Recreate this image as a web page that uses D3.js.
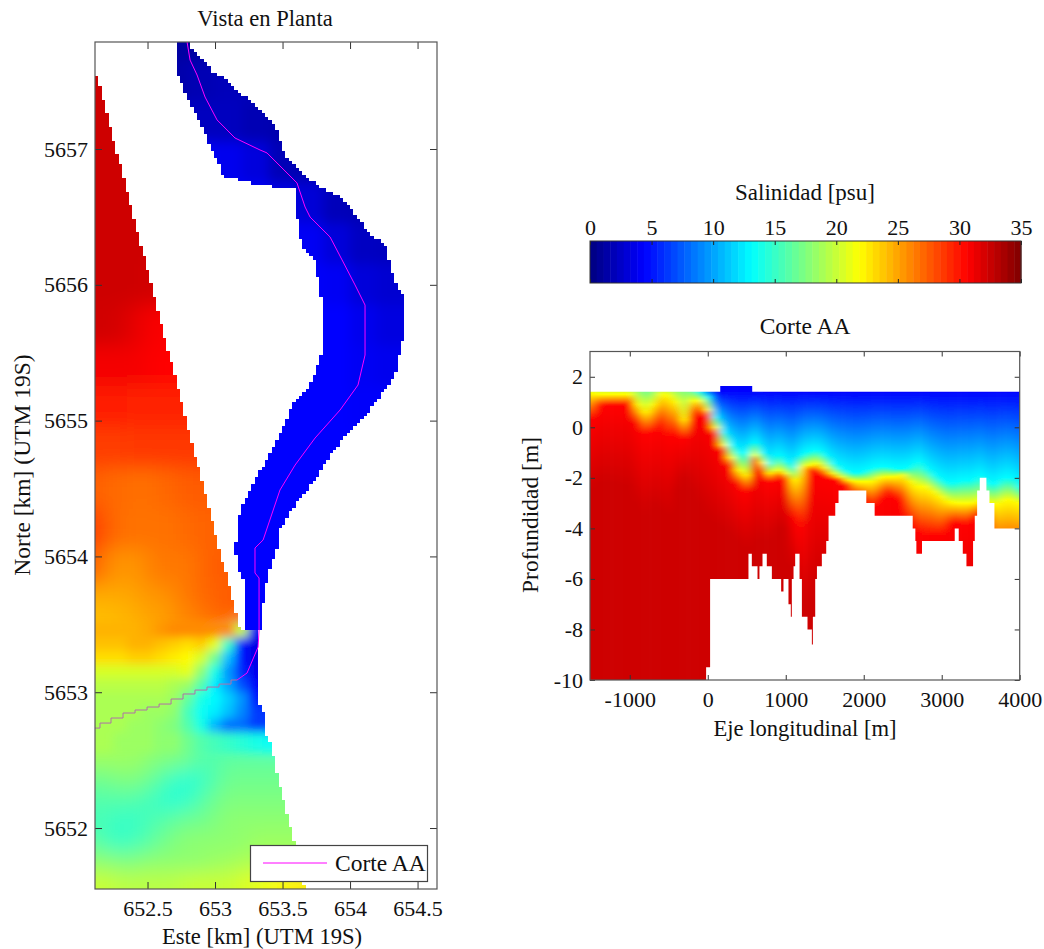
<!DOCTYPE html>
<html>
<head>
<meta charset="utf-8">
<script src="https://cdn.jsdelivr.net/npm/d3@7"></script>
<style>
  html, body { margin: 0; background: #fff; }
  svg { display: block; }
  text { font-family: "Liberation Serif", serif; fill: #111; }
  .tick text { font-size: 22px; }
  .label { font-size: 22.6px; text-anchor: middle; }
  .side { font-size: 23.5px; text-anchor: middle; }
</style>
</head>
<body>
<svg id="fig" width="1044" height="949"></svg>
<script>
'use strict';

// jet colormap of the figure
const jetPos = [0, 0.125, 0.375, 0.5, 0.625, 0.75, 0.875, 1];
const jetCol = ['#00007f', '#0000ff', '#00ffff', '#7fff7f', '#ffff00', '#ff7f00', '#ff0000', '#7f0000'];
const salMax = 35;
const salTicks = [0, 5, 10, 15, 20, 25, 30, 35];

// plan view, axes
const eastDomain = [652.111, 654.644];
const northDomain = [5651.551, 5657.788];
const eastTicks = [652.5, 653, 653.5, 654, 654.5];
const northTicks = [5652, 5653, 5654, 5655, 5656, 5657];

// plan view, coastal water salinity [psu]
const seaEast = [652.1, 652.2, 652.3, 652.4, 652.5, 652.6, 652.7, 652.8, 652.9, 653.0, 653.1, 653.2, 653.3, 653.4, 653.5, 653.6, 653.7];
const seaNorth = [5657.6, 5657.2, 5656.8, 5656.4, 5656.0, 5655.7, 5655.4, 5655.1, 5654.8, 5654.5, 5654.2, 5653.9, 5653.7, 5653.55, 5653.45, 5653.35, 5653.25, 5653.15, 5653.05, 5652.95, 5652.85, 5652.75, 5652.65, 5652.5, 5652.35, 5652.2, 5652.05, 5651.9, 5651.75, 5651.6];
const seaSal = [
  [32.3, 32.3, 32.3, 32.3, 32.3, 32.3, 32.3, 32.3, 32.3, 32.3, 32.3, 32.3, 32.3, 32.3, 32.3, 32.3, 32.3],
  [32.3, 32.3, 32.3, 32.3, 32.3, 32.3, 32.3, 32.3, 32.3, 32.3, 32.3, 32.3, 32.3, 32.3, 32.3, 32.3, 32.3],
  [32.3, 32.3, 32.3, 32.3, 32.3, 32.3, 32.3, 32.3, 32.3, 32.3, 32.3, 32.3, 32.3, 32.3, 32.3, 32.3, 32.3],
  [32.3, 32.3, 32.3, 32.3, 32.3, 32.3, 32.3, 32.3, 32.3, 32.3, 32.3, 32.3, 32.3, 32.3, 32.3, 32.3, 32.3],
  [32.3, 32.3, 32.3, 32.3, 32.2, 32.2, 32.2, 32.2, 32.2, 32.2, 32.2, 32.2, 32.2, 32.2, 32.2, 32.2, 32.2],
  [32.2, 32.2, 32, 31.5, 31, 30.8, 30.8, 30.8, 30.8, 30.8, 30.8, 30.8, 30.8, 30.8, 30.8, 30.8, 30.8],
  [31, 31, 31, 31, 30.8, 30.6, 30.6, 30.6, 30.6, 30.6, 30.6, 30.6, 30.6, 30.6, 30.6, 30.6, 30.6],
  [29.7, 29.7, 29.7, 29.5, 29.5, 29.5, 29.5, 29.5, 29.5, 29.5, 29.5, 29.5, 29.5, 29.5, 29.5, 29.5, 29.5],
  [28.5, 28.5, 28.5, 28.7, 28.7, 28.7, 28.7, 28.7, 28.7, 28.7, 28.7, 28.7, 28.7, 28.7, 28.7, 28.7, 28.7],
  [27.5, 27, 27, 26.8, 26.8, 27, 27.2, 27.5, 27.5, 27.5, 27.5, 27.5, 27.5, 27.5, 27.5, 27.5, 27.5],
  [28.5, 27.5, 26.8, 26.7, 26.7, 26.7, 26.8, 27, 27.2, 27.2, 27.2, 27.2, 27.2, 27.2, 27.2, 27.2, 27.2],
  [27.5, 26, 25.5, 25.5, 26, 26.5, 26.5, 26.5, 27, 27.5, 27.5, 27.5, 27.5, 27.5, 27.5, 27.5, 27.5],
  [24.8, 24.8, 24.8, 25, 25.5, 25.5, 26, 26.5, 27, 27.2, 27.5, 27.5, 27.5, 27.5, 27.5, 27.5, 27.5],
  [24, 24, 24.3, 24.5, 25, 25, 25.5, 26, 26.5, 27, 27.5, 27.5, 27.5, 27.5, 27.5, 27.5, 27.5],
  [24.5, 24.5, 24.5, 24.5, 24.8, 25.5, 26, 26, 26, 26, 26, 20, 4, 4, 4, 4, 4],
  [24, 24, 24, 24.5, 24.5, 24, 23.5, 23, 23.5, 21, 15, 5, 3.5, 3.5, 3.5, 3.5, 3.5],
  [23, 23, 23, 23.5, 23.5, 23, 22.5, 22, 20.5, 17, 11, 5, 3.5, 3.5, 3.5, 3.5, 3.5],
  [20.5, 20.5, 20.5, 20.5, 20.5, 20.5, 20.5, 21, 18, 14, 9.5, 5.5, 3.8, 3.8, 3.8, 3.8, 3.8],
  [19.5, 19.5, 19.5, 19.5, 19.5, 19.5, 19, 18.5, 16, 12.5, 10, 7, 4.2, 4.2, 4.2, 4.2, 4.2],
  [19, 19, 19, 19, 19, 19, 18.5, 16.5, 14, 13, 11.5, 9.5, 5, 5, 5, 5, 5],
  [19, 19, 19, 19, 18.5, 18.5, 18, 15.5, 13.5, 12.5, 11, 9, 6.5, 6, 6, 6, 6],
  [19, 19, 19, 18.5, 18.5, 18, 17.5, 16, 14, 10.5, 8, 8, 6.5, 6.5, 6.5, 6.5, 6.5],
  [19, 19, 18.5, 18.5, 18.5, 18, 18, 17, 16, 15.5, 15, 14.5, 14, 13.5, 13.5, 13.5, 13.5],
  [18.5, 18.5, 18.5, 18.5, 18, 17.5, 17.5, 17, 16, 16, 16.5, 16.5, 16.5, 16.5, 16.5, 16.5, 16.5],
  [17, 17, 17.5, 17.5, 17, 16, 15, 14.5, 15, 16, 17, 17, 17, 17, 17, 17, 17],
  [16, 16, 16, 16, 15.5, 15, 14.5, 15, 16, 17, 17.5, 17.5, 17.5, 17.5, 17.5, 17.5, 17.5],
  [15.5, 15.5, 15, 15, 15.5, 16, 16.5, 17, 17, 17.5, 18, 18, 18, 18, 18, 18, 18],
  [16.5, 15.5, 15, 15.5, 16, 17, 17.5, 18, 18, 18, 18, 18, 18.5, 18.5, 18.5, 18.5, 18.5],
  [18, 18, 17.5, 17.5, 18, 18, 18, 18, 18, 18.5, 18.5, 19, 19, 19, 19, 19, 19],
  [20, 20, 19.5, 19.5, 19.5, 19.5, 19.5, 20, 20, 20, 20, 20.5, 21, 21.5, 22, 22.5, 22.5]
];
const seaFineRows = [14, 22]; // rows around the mouth keep sharper gradients

// plan view, river salinity [psu]
const riverEast = [652.7, 652.9, 653.1, 653.3, 653.5, 653.7, 653.9, 654.1, 654.3, 654.5];
const riverNorth = [5657.8, 5657.5, 5657.2, 5656.9, 5656.6, 5656.3, 5656.0, 5655.7, 5655.4, 5655.1, 5654.8, 5654.5, 5654.2, 5653.9, 5653.6];
const riverSal = [
  [1.2, 1.2, 1.2, 1.5, 1.5, 1.5, 1.5, 1.5, 1.5, 1.5],
  [1.5, 1.8, 2, 2, 2, 2, 2, 2, 2, 2],
  [2.5, 2.2, 2.2, 1.8, 1.6, 1.5, 1.5, 1.5, 1.5, 1.5],
  [4, 4, 3.8, 3.2, 1.9, 1.7, 1.6, 1.6, 1.6, 1.6],
  [4, 4, 4, 4, 3.4, 3, 2, 1.8, 1.8, 1.8],
  [4.4, 4.4, 4.4, 4.4, 4.2, 4, 3.1, 2.3, 2.2, 2.2],
  [4.4, 4.4, 4.4, 4.4, 4.4, 4.2, 4, 3.1, 2.8, 2.8],
  [4.4, 4.4, 4.4, 4.4, 4.4, 4.4, 4.4, 3.8, 3.3, 3.3],
  [4.4, 4.4, 4.4, 4.4, 4.4, 4.4, 4.4, 4, 3.8, 3.8],
  [4.4, 4.4, 4.4, 4.4, 4.4, 4.4, 4.4, 4.2, 4.2, 4.2],
  [4.4, 4.4, 4.4, 4.4, 4.4, 4.4, 4.4, 4.4, 4.4, 4.4],
  [4.4, 4.4, 4.4, 4.4, 4.4, 4.4, 4.4, 4.4, 4.4, 4.4],
  [4.4, 4.4, 4.4, 4.4, 4.4, 4.4, 4.4, 4.4, 4.4, 4.4],
  [4.5, 4.5, 4.5, 4.5, 4.5, 4.5, 4.5, 4.5, 4.5, 4.5],
  [4.5, 4.5, 4.5, 4.5, 4.5, 4.5, 4.5, 4.5, 4.5, 4.5]
];

// plan view, wet area outlines [km]
const riverOutline = [
  [652.719, 5657.788], [652.719, 5657.545], [652.748, 5657.493], [652.770, 5657.434], [652.822, 5657.339], [652.844, 5657.287],
  [652.896, 5657.191], [652.948, 5657.066], [652.978, 5656.985], [653.022, 5656.897], [653.067, 5656.794], [653.170, 5656.772],
  [653.296, 5656.742], [653.452, 5656.720], [653.578, 5656.720], [653.600, 5656.661], [653.607, 5656.514], [653.622, 5656.389],
  [653.659, 5656.264], [653.733, 5656.183], [653.756, 5656.087], [653.778, 5655.962], [653.807, 5655.778], [653.807, 5655.593],
  [653.778, 5655.446], [653.704, 5655.262], [653.570, 5655.115], [653.519, 5654.968], [653.407, 5654.747], [653.296, 5654.563],
  [653.185, 5654.342], [653.170, 5654.195], [653.148, 5654.047], [653.170, 5653.915], [653.200, 5653.848], [653.222, 5653.804],
  [653.222, 5653.451], [653.348, 5653.451], [653.348, 5653.568], [653.370, 5653.753], [653.393, 5653.863], [653.430, 5653.973],
  [653.474, 5654.121], [653.481, 5654.195], [653.593, 5654.378], [653.741, 5654.562], [653.852, 5654.747], [654.000, 5654.931],
  [654.148, 5655.078], [654.259, 5655.225], [654.333, 5655.336], [654.378, 5655.557], [654.400, 5655.630], [654.400, 5655.910],
  [654.356, 5655.976], [654.326, 5656.057], [654.304, 5656.130], [654.281, 5656.234], [654.252, 5656.315], [654.163, 5656.352],
  [654.074, 5656.477], [654.000, 5656.566], [653.904, 5656.661], [653.800, 5656.705], [653.726, 5656.757], [653.607, 5656.867],
  [653.526, 5656.941], [653.504, 5657.007], [653.474, 5657.088], [653.444, 5657.177], [653.393, 5657.228], [653.319, 5657.302],
  [653.237, 5657.376], [653.148, 5657.434], [653.074, 5657.523], [652.985, 5657.567], [652.919, 5657.641], [652.867, 5657.692],
  [652.815, 5657.744], [652.815, 5657.788]
];
const seaOutline = [
  [652.05, 5657.55], [652.125, 5657.55], [653.190, 5653.451], [653.319, 5653.451], [653.319, 5652.920], [653.356, 5652.906],
  [653.363, 5652.700], [653.393, 5652.685], [653.680, 5651.5], [652.05, 5651.5]
];

// section line AA seen in plan [km]
const cutRiver = [
  [652.793, 5657.788], [652.815, 5657.655], [652.867, 5657.545], [652.926, 5657.383], [653.015, 5657.214], [653.148, 5657.081],
  [653.333, 5656.993], [653.385, 5656.971], [653.607, 5656.750], [653.667, 5656.573], [653.704, 5656.499], [653.852, 5656.352],
  [653.941, 5656.183], [654.037, 5655.999], [654.111, 5655.851], [654.111, 5655.483], [654.059, 5655.262], [653.926, 5655.078],
  [653.741, 5654.872], [653.593, 5654.673], [653.481, 5654.489], [653.356, 5654.121], [653.296, 5654.062], [653.296, 5653.878],
  [653.326, 5653.841], [653.326, 5653.458], [653.319, 5653.333], [653.237, 5653.141], [653.163, 5653.090]
];
const cutSea = [
  [653.163, 5653.090], [653.074, 5653.060], [652.985, 5653.038], [652.896, 5653.016], [652.807, 5652.987], [652.719, 5652.950],
  [652.630, 5652.913], [652.541, 5652.891], [652.452, 5652.869], [652.363, 5652.847], [652.274, 5652.810], [652.185, 5652.773], [652.111, 5652.736]
];

// longitudinal section, axes
const alongDomain = [-1510, 4000];
const depthDomain = [-10, 3];
const alongTicks = [-1000, 0, 1000, 2000, 3000, 4000];
const depthTicks = [-10, -8, -6, -4, -2, 0, 2];

// longitudinal section, stations [m] and elevation [m] of the isohalines
const stations = d3.range(-1500, 4001, 100);
const iso4 = [3, 3, 3, 3, 3, 3, 3, 3, 3, 3, 3, 3, 3, 2.4, 2, 1.6, 1.38, 0.9, 0.5, 0.1, 0, -0.1, -0.4, -0.5, -0.37, -0.5, -0.77, -0.5, -0.37, -0.3, -0.37, -0.64, -0.77, -0.9, -0.97, -0.9, -0.64, -0.64, -0.57, -0.77, -0.77, -1.03, -0.64, -0.9, -0.9, -0.84, -0.64, -0.64, -0.5, -0.77, -1.03, -1.56, -1.36, -1.16, -1.43, -1.76];
const iso13 = [2.2, 2.2, 2.2, 2.2, 2.2, 2.2, 2.2, 2.05, 2, 2.2, 2.2, 2, 2.6, 1.7, 1.4, 1.2, 0.4, -0.2, -0.7, -1, -1, -0.6, -1, -1.43, -1.1, -1.36, -1.56, -1.1, -0.97, -0.9, -1.1, -1.43, -1.63, -1.76, -1.82, -1.76, -1.63, -1.56, -1.56, -1.63, -1.63, -1.56, -1.36, -1.63, -1.89, -2.09, -2.22, -2.15, -2.09, -2.09, -1.9, -2.22, -2.22, -2, -2, -2.35];
const iso22 = [1.35, 1.3, 1.3, 1.3, 1.3, 1.3, 0.9, 0.6, 0.9, 1.3, 1.25, 1, 0.3, 1.05, 1.05, 0.7, 0, -0.7, -1.2, -1.7, -1.9, -1.1, -1.4, -1.82, -1.7, -1.82, -2.09, -1.6, -1.5, -1.43, -1.6, -1.82, -1.96, -2.09, -2.15, -2.15, -2.15, -2, -1.96, -1.96, -1.89, -2.15, -2.35, -2.35, -2.55, -2.75, -2.95, -3, -3, -3, -2.9, -3, -3.05, -2.88, -2.88, -3];
const iso30 = [0.3, 0.8, 0.85, 0.85, 0.85, 0.85, 0.1, -0.3, -0.2, 0.1, -0.4, -0.3, -0.5, 0.3, 0.55, 0.35, -0.35, -1, -1.6, -2.3, -2.6, -1.4, -1.9, -2.2, -1.96, -2.15, -3.6, -4, -1.76, -1.82, -1.96, -2.09, -2.15, -2.35, -2.75, -2.9, -3.2, -2.9, -2.6, -2.8, -3, -3.8, -4.2, -4.3, -4.3, -4.3, -3.9, -3.8, -3.9, -3.7, -3.5, -3.9, -5.4, -5.4, -5.4, -5.4];
const iso32 = [-2.5, -2.2, -2.2, -2.2, -2.3, -2.3, -3, -3.5, -3, -3.2, -3.5, -2.5, -2, -2.5, -3, -3.5, -3.8, -4, -4.2, -4.5, -4.8, -4.5, -4.5, -4.5, -4, -4, -5.5, -7, -7, -6, -6, -6, -9, -9, -9, -9, -9, -9, -9, -9, -9, -9, -9, -9, -9, -9, -9, -9, -9, -9, -9, -9, -9, -9, -9, -9];
const isoLevels = [4.4, 13.1, 21.9, 30.6, 32.3];

// longitudinal section, bed steps [m]
const bedX = [-1510, -21, 30, 522, 565, 638, 663, 702, 757, 822, 941, 971, 1035, 1065, 1078, 1100, 1121, 1177, 1207, 1279, 1335, 1348, 1378, 1400, 1463, 1519, 1549, 1635, 1677, 2033, 2140, 2628, 2662, 2675, 2747, 3167, 3218, 3270, 3317, 3402, 3424, 3454, 3488, 3573, 3612, 3676, 4000];
const bedZ = [-10, -9.5, -6, -5, -5.5, -6, -5.5, -5, -5.5, -6, -6.5, -6, -7, -7.5, -6, -5.5, -5, -6, -7.5, -8, -8.6, -7.5, -6, -5.5, -5, -4.5, -3.5, -3, -2.5, -3, -3.5, -4, -4.5, -5, -4.5, -4, -4.5, -5, -5.5, -4.5, -3.5, -2.5, -2, -2.5, -3, -4, -4];
const surfaceZ = 1.41;
const raisedX = [160, 570];
const raisedZ = 1.63;

const jet = d3.scaleLinear().domain(jetPos.map((p) => p * salMax)).range(jetCol).clamp(true);

const svg = d3.select('#fig');
const defs = svg.append('defs');

const blur = function (id, dev) {
  defs.append('filter').attr('id', id)
    .attr('filterUnits', 'userSpaceOnUse')
    .attr('x', 0).attr('y', 0).attr('width', 1044).attr('height', 949)
    .append('feGaussianBlur').attr('stdDeviation', dev);
};
blur('softWide', 10);
blur('softFine', 5);
blur('softRiver', 6);
blur('softColumns', '4.5 0');

/* model cells are small squares, so the wet area is clipped on that lattice */
const latticeClip = function (id, outline, x, y) {
  const step = 3.4;
  const poly = outline.map(([e, n]) => [x(e), y(n)]);
  const x0 = x.range()[0];
  const y1 = y.range()[1];
  let d = '';
  for (let py = y1; py < y.range()[0]; py += step) {
    let start = null;
    for (let px = x0; px <= x.range()[1]; px += step) {
      const inside = d3.polygonContains(poly, [px + step / 2, py + step / 2]);
      if (inside && start === null) start = px;
      if (!inside && start !== null) {
        d += `M${Math.round(start)},${Math.round(py)}H${Math.round(px)}V${Math.round(py + step)}H${Math.round(start)}Z`;
        start = null;
      }
    }
  }
  defs.append('clipPath').attr('id', id).append('path').attr('d', d);
};

/* edges halfway between grid nodes, the outer ones pushed out so the blur stays full */
const edges = function (nodes, scale) {
  const px = nodes.map(scale);
  const mid = d3.pairs(px).map(([a, b]) => (a + b) / 2);
  const dir = Math.sign(px[1] - px[0]);
  return [px[0] - 40 * dir, ...mid, px[px.length - 1] + 40 * dir];
};

const drawField = function (parent, east, north, sal, x, y, filter, rows) {
  const xe = edges(east, x);
  const ye = edges(north, y);
  const cells = sal.flatMap((row, j) => row.map((v, i) => ({ v, i, j })))
    .filter((d) => !rows || (d.j >= rows[0] && d.j <= rows[1]));
  parent.append('g').attr('filter', `url(#${filter})`)
    .selectAll('rect').data(cells).join('rect')
    .attr('x', (d) => xe[d.i] - 0.5)
    .attr('y', (d) => ye[d.j] - 0.5)
    .attr('width', (d) => xe[d.i + 1] - xe[d.i] + 1)
    .attr('height', (d) => ye[d.j + 1] - ye[d.j] + 1)
    .attr('fill', (d) => jet(d.v));
};

/* matlab style box: ticks point inward on all four sides */
const drawBox = function (x, y, xTicks, yTicks, len) {
  const w = x.range()[1] - x.range()[0];
  const h = y.range()[0] - y.range()[1];
  const g = svg.append('g').attr('class', 'box');
  const fmt = (d) => String(d);
  g.append('g').attr('transform', `translate(0,${y.range()[0]})`)
    .call(d3.axisBottom(x).tickValues(xTicks).tickFormat(fmt).tickSizeInner(-len).tickSizeOuter(0).tickPadding(11));
  g.append('g').attr('transform', `translate(0,${y.range()[1]})`)
    .call(d3.axisTop(x).tickValues(xTicks).tickFormat('').tickSizeInner(-len).tickSizeOuter(0));
  g.append('g').attr('transform', `translate(${x.range()[0]},0)`)
    .call(d3.axisLeft(y).tickValues(yTicks).tickFormat(fmt).tickSizeInner(-len).tickSizeOuter(0).tickPadding(7));
  g.append('g').attr('transform', `translate(${x.range()[1]},0)`)
    .call(d3.axisRight(y).tickValues(yTicks).tickFormat('').tickSizeInner(-len).tickSizeOuter(0));
  g.selectAll('.domain').remove();
  g.selectAll('.tick line').attr('stroke', '#333');
  g.selectAll('.tick text').attr('font-family', null).attr('font-size', null);
  g.append('rect').attr('x', x.range()[0]).attr('y', y.range()[1])
    .attr('width', w).attr('height', h)
    .attr('fill', 'none').attr('stroke', '#555').attr('stroke-width', 1.2);
};

/* ---- plan view ---- */
const px = d3.scaleLinear().domain(eastDomain).range([95, 437]);
const py = d3.scaleLinear().domain(northDomain).range([889, 42]);

latticeClip('seaClip', seaOutline, px, py);
latticeClip('riverClip', riverOutline, px, py);
defs.append('clipPath').attr('id', 'planClip').append('rect')
  .attr('x', 95).attr('y', 42).attr('width', 342).attr('height', 847);

const plan = svg.append('g').attr('clip-path', 'url(#planClip)');
const seaLayer = plan.append('g').attr('clip-path', 'url(#seaClip)');
drawField(seaLayer, seaEast, seaNorth, seaSal, px, py, 'softWide');
drawField(seaLayer, seaEast, seaNorth, seaSal, px, py, 'softFine', seaFineRows);
const riverLayer = plan.append('g').attr('clip-path', 'url(#riverClip)');
drawField(riverLayer, riverEast, riverNorth, riverSal, px, py, 'softRiver');

const planLine = d3.line().x((d) => px(d[0])).y((d) => py(d[1]));
plan.append('path').attr('d', planLine(cutRiver))
  .attr('fill', 'none').attr('stroke', '#ff00ff').attr('stroke-width', 1);
plan.append('path').attr('d', planLine.curve(d3.curveStep)(cutSea))
  .attr('fill', 'none').attr('stroke', '#b070a8').attr('stroke-width', 1);

drawBox(px, py, eastTicks, northTicks, 7);

svg.append('text').attr('class', 'label').attr('x', 265).attr('y', 26).text('Vista en Planta');
svg.append('text').attr('class', 'label').attr('x', 262).attr('y', 944).text('Este [km] (UTM 19S)');
svg.append('text').attr('class', 'side')
  .attr('transform', 'translate(30,465) rotate(-90)').text('Norte [km] (UTM 19S)');

// legend
const legend = svg.append('g');
legend.append('rect').attr('x', 250.5).attr('y', 845.5).attr('width', 177).attr('height', 36)
  .attr('fill', '#fff').attr('stroke', '#444').attr('stroke-width', 1.2);
legend.append('line').attr('x1', 263).attr('x2', 327).attr('y1', 863).attr('y2', 863)
  .attr('stroke', '#ff00ff').attr('stroke-width', 1);
legend.append('text').attr('x', 335).attr('y', 871).attr('font-size', 23.5).text('Corte AA');

/* ---- colour bar ---- */
const barX = d3.scaleLinear().domain([0, salMax]).range([590, 1021]);
const barTop = 241;
const barBottom = 283;
const levels = d3.range(64);
svg.append('g').selectAll('rect').data(levels).join('rect')
  .attr('x', (d) => barX((d * salMax) / 64))
  .attr('y', barTop)
  .attr('width', barX(salMax / 64) - barX(0) + 0.5)
  .attr('height', barBottom - barTop)
  .attr('fill', (d) => jet(((d + 0.5) * salMax) / 64));
const barAxis = svg.append('g').attr('class', 'box');
barAxis.append('g').attr('transform', `translate(0,${barTop})`)
  .call(d3.axisTop(barX).tickValues(salTicks).tickFormat((d) => String(d)).tickSizeInner(-4).tickSizeOuter(0).tickPadding(6));
barAxis.append('g').attr('transform', `translate(0,${barBottom})`)
  .call(d3.axisBottom(barX).tickValues(salTicks).tickFormat('').tickSizeInner(-4).tickSizeOuter(0));
barAxis.selectAll('.domain').remove();
barAxis.selectAll('.tick line').attr('stroke', '#222');
barAxis.selectAll('.tick text').attr('font-family', null).attr('font-size', null);
barAxis.append('rect').attr('x', 590).attr('y', barTop).attr('width', 431).attr('height', barBottom - barTop)
  .attr('fill', 'none').attr('stroke', '#333').attr('stroke-width', 1);
svg.append('text').attr('class', 'label').attr('x', 805).attr('y', 200).attr('style', 'font-size:23px').text('Salinidad [psu]');

/* ---- longitudinal section ---- */
const sx = d3.scaleLinear().domain(alongDomain).range([590, 1019.7]);
const sy = d3.scaleLinear().domain(depthDomain).range([680, 351.5]);

const columns = stations.map((s, i) => ({
  s, i,
  stops: [
    [raisedZ + 1, 3.6],
    [Math.max(iso4[i], raisedZ - 0.2), isoLevels[0]],
    [iso13[i], isoLevels[1]],
    [iso22[i], isoLevels[2]],
    [iso30[i], isoLevels[3]],
    [iso32[i], isoLevels[4]]
  ]
}));

defs.selectAll('linearGradient').data(columns).join('linearGradient')
  .attr('id', (d) => `col${d.i}`)
  .attr('gradientUnits', 'userSpaceOnUse')
  .attr('x1', 0).attr('x2', 0)
  .attr('y1', sy(depthDomain[1])).attr('y2', sy(depthDomain[0]))
  .selectAll('stop').data((d) => d.stops).join('stop')
  .attr('offset', (d) => (depthDomain[1] - d[0]) / (depthDomain[1] - depthDomain[0]))
  .attr('stop-color', (d) => jet(d[1]));

const bedArea = d3.area().curve(d3.curveStepAfter)
  .x((d) => sx(d[0])).y0(sy(surfaceZ)).y1((d) => sy(d[1]));
const wet = defs.append('clipPath').attr('id', 'wetClip');
wet.append('path').attr('d', bedArea(d3.zip(bedX, bedZ)));
wet.append('rect').attr('x', sx(raisedX[0])).attr('y', sy(raisedZ))
  .attr('width', sx(raisedX[1]) - sx(raisedX[0])).attr('height', sy(surfaceZ) - sy(raisedZ) + 1);

const colW = sx(100) - sx(0);
svg.append('g').attr('clip-path', 'url(#wetClip)')
  .append('g').attr('filter', 'url(#softColumns)')
  .selectAll('rect').data(columns).join('rect')
  .attr('x', (d) => sx(d.s) - colW / 2 - (d.i === 0 ? 30 : 0))
  .attr('y', sy(depthDomain[1]))
  .attr('width', (d) => colW + 0.5 + (d.i === 0 || d.i === columns.length - 1 ? 30 : 0))
  .attr('height', sy(depthDomain[0]) - sy(depthDomain[1]))
  .attr('fill', (d) => `url(#col${d.i})`);

drawBox(sx, sy, alongTicks, depthTicks, 5);

svg.append('text').attr('class', 'label').attr('x', 805).attr('y', 334).attr('style', 'font-size:23.5px').text('Corte AA');
svg.append('text').attr('class', 'label').attr('x', 805).attr('y', 736).text('Eje longitudinal [m]');
svg.append('text').attr('class', 'side')
  .attr('transform', 'translate(538,515) rotate(-90)').text('Profundidad [m]');
</script>
</body>
</html>
